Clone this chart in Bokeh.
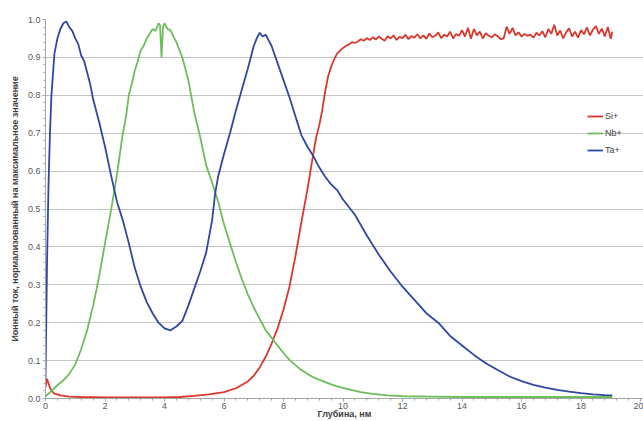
from bokeh.plotting import figure
from bokeh.models import Range1d, FixedTicker, PrintfTickFormatter, Legend, LegendItem
from bokeh.embed import file_html
from bokeh.resources import INLINE

# ---- data ----
si_depth = [0.0, 0.05, 0.1, 0.15, 0.2, 0.3, 0.5, 0.8, 1.2, 2.0, 3.0, 4.0, 4.5, 5.0, 5.5, 6.0,
            6.4, 6.8, 7.0, 7.2, 7.4, 7.6, 7.8, 8.0, 8.2, 8.4, 8.6, 8.8, 9.0, 9.1, 9.2, 9.3,
            9.4, 9.5, 9.6, 9.7, 9.8, 9.9, 10.0, 10.1, 10.2, 10.3, 10.4,
            10.5, 10.6, 10.7, 10.8, 10.9, 11.0, 11.1, 11.2, 11.3, 11.4, 11.5, 11.6, 11.7, 11.8,
            11.9, 12.0, 12.1, 12.2, 12.3, 12.4, 12.5, 12.6, 12.7, 12.8, 12.9, 13.0, 13.1, 13.2,
            13.3, 13.4, 13.5, 13.6, 13.7, 13.8, 13.9, 14.0, 14.1, 14.2, 14.3, 14.4, 14.5, 14.6,
            14.7, 14.8, 14.9, 15.0, 15.1, 15.2, 15.3, 15.4, 15.5, 15.6, 15.7, 15.8, 15.9, 16.0,
            16.1, 16.2, 16.3, 16.4, 16.5, 16.6, 16.7, 16.8, 16.9, 17.0, 17.1, 17.2, 17.3, 17.4,
            17.5, 17.6, 17.7, 17.8, 17.9, 18.0, 18.1, 18.2, 18.3, 18.4, 18.5, 18.6, 18.7, 18.8,
            18.9, 19.0, 19.05]
si_value = [0.03, 0.052, 0.04, 0.028, 0.02, 0.013, 0.008, 0.005, 0.004, 0.003, 0.003, 0.003, 0.004, 0.007, 0.011, 0.017,
            0.027, 0.045, 0.06, 0.082, 0.11, 0.145, 0.185, 0.235, 0.295, 0.375, 0.465, 0.55, 0.645, 0.69, 0.72, 0.76,
            0.81, 0.85, 0.875, 0.895, 0.91, 0.918, 0.925, 0.93, 0.935, 0.94, 0.938,
            0.942, 0.948, 0.944, 0.951, 0.946, 0.953, 0.947, 0.955, 0.949, 0.944, 0.956, 0.950, 0.958, 0.946,
            0.954, 0.951, 0.960, 0.948, 0.956, 0.952, 0.961, 0.950, 0.958, 0.949, 0.963, 0.953, 0.957, 0.966,
            0.951, 0.960, 0.955, 0.968, 0.950, 0.962, 0.957, 0.972, 0.955, 0.978, 0.949, 0.975, 0.958, 0.968,
            0.950, 0.964, 0.957, 0.953, 0.961, 0.956, 0.948, 0.950, 0.981, 0.962, 0.978, 0.958, 0.966, 0.955,
            0.962, 0.957, 0.960, 0.952, 0.965, 0.958, 0.969, 0.953, 0.975, 0.962, 0.986, 0.958, 0.971, 0.950,
            0.966, 0.977, 0.955, 0.968, 0.952, 0.972, 0.961, 0.979, 0.958, 0.973, 0.983, 0.962, 0.976, 0.955,
            0.980, 0.949, 0.968]

nb_depth = [0.0, 0.2, 0.4, 0.6, 0.8, 1.0, 1.2, 1.4, 1.6, 1.8, 2.0, 2.2, 2.4, 2.6, 2.7, 2.8, 2.9, 3.0,
            3.1, 3.2, 3.3, 3.4, 3.5, 3.6, 3.7, 3.8, 3.85, 3.9, 3.95, 4.0, 4.1, 4.2, 4.3, 4.4, 4.5, 4.6,
            4.7, 4.8, 5.0, 5.2, 5.4, 5.6, 5.8, 6.0, 6.2, 6.4, 6.6, 6.8, 7.0, 7.2, 7.4, 7.6, 7.8,
            8.0, 8.2, 8.4, 8.6, 8.8, 9.0, 9.4, 9.8, 10.2, 10.6, 11.0, 11.5, 12.0, 13.0, 14.0, 15.0,
            16.0, 17.0, 18.0, 19.05]
nb_value = [0.005, 0.02, 0.035, 0.048, 0.065, 0.09, 0.13, 0.18, 0.245, 0.32, 0.41, 0.495, 0.59, 0.70, 0.74, 0.80, 0.83, 0.865,
            0.89, 0.918, 0.93, 0.95, 0.962, 0.975, 0.97, 0.99, 0.985, 0.90, 0.98, 0.99, 0.975, 0.972, 0.955, 0.94, 0.92, 0.90,
            0.87, 0.84, 0.755, 0.69, 0.615, 0.57, 0.52, 0.46, 0.41, 0.36, 0.315, 0.275, 0.24, 0.21, 0.18, 0.16, 0.14,
            0.12, 0.102, 0.088, 0.075, 0.065, 0.056, 0.043, 0.032, 0.024, 0.017, 0.012, 0.008, 0.006, 0.005, 0.004, 0.004,
            0.004, 0.004, 0.004, 0.004]

ta_depth = [0.0, 0.05, 0.1, 0.15, 0.2, 0.3, 0.4, 0.5, 0.6, 0.7, 0.8, 0.9, 1.0, 1.1, 1.2, 1.3, 1.4, 1.5,
            1.6, 1.8, 2.0, 2.2, 2.4, 2.6, 2.8, 3.0, 3.2, 3.4, 3.6, 3.8, 4.0, 4.2, 4.4, 4.6, 4.8, 5.0,
            5.2, 5.4, 5.6, 5.7, 5.8, 5.9, 6.0, 6.2, 6.4, 6.6, 6.8, 7.0, 7.1, 7.2, 7.3, 7.4, 7.6, 7.8,
            8.0, 8.2, 8.4, 8.6, 8.8, 9.0, 9.2, 9.4, 9.6, 9.8, 10.0, 10.4, 10.8, 11.2, 11.6, 12.0,
            12.4, 12.8, 13.2, 13.6, 14.0, 14.4, 14.8, 15.2, 15.6, 16.0, 16.4, 16.8, 17.2, 17.6,
            18.0, 18.4, 18.8, 19.05]
ta_value = [0.05, 0.35, 0.56, 0.70, 0.80, 0.91, 0.95, 0.975, 0.99, 0.995, 0.98, 0.97, 0.95, 0.935, 0.905, 0.89, 0.86, 0.83,
            0.79, 0.73, 0.665, 0.59, 0.52, 0.47, 0.41, 0.345, 0.295, 0.255, 0.225, 0.20, 0.185, 0.18, 0.19, 0.205, 0.245, 0.29,
            0.335, 0.385, 0.47, 0.54, 0.585, 0.615, 0.645, 0.70, 0.76, 0.815, 0.87, 0.93, 0.95, 0.965, 0.955, 0.96, 0.93, 0.885,
            0.84, 0.795, 0.745, 0.695, 0.665, 0.64, 0.61, 0.585, 0.565, 0.55, 0.525, 0.485, 0.43, 0.38, 0.335, 0.295,
            0.26, 0.225, 0.20, 0.165, 0.14, 0.115, 0.093, 0.075, 0.058, 0.046, 0.036, 0.029, 0.023, 0.018,
            0.014, 0.011, 0.009, 0.008]

x_ticks = [0, 2, 4, 6, 8, 10, 12, 14, 16, 18, 20]
y_ticks = [0.0, 0.1, 0.2, 0.3, 0.4, 0.5, 0.6, 0.7, 0.8, 0.9, 1.0]
series_names = ["Si+", "Nb+", "Ta+"]
series_colors = ["#d9382d", "#6dbd5b", "#2e47a5"]
x_title = "Глубина, нм"
y_title = "Ионный ток, нормализованный на максимальное значение"

FONT = "Liberation Sans"

p = figure(width=643, height=421, output_backend="svg", toolbar_location=None,
           x_range=Range1d(0, 20.1), y_range=Range1d(0, 1.0),
           min_border_left=45, min_border_right=0, min_border_top=19, min_border_bottom=0)
p.outline_line_color = None
p.background_fill_color = "white"

lines = []
for d, v, c in zip([si_depth, nb_depth, ta_depth], [si_value, nb_value, ta_value], series_colors):
    lines.append(p.line(d, v, line_color=c, line_width=1.8))

p.xgrid.grid_line_color = None
p.ygrid.grid_line_color = "#c4c4c4"
p.ygrid.grid_line_width = 1

x_minor = [round(i * 0.4, 2) for i in range(0, 51)]
y_minor = [round(i * 0.02, 2) for i in range(0, 51)]
p.xaxis.ticker = FixedTicker(ticks=x_ticks, minor_ticks=x_minor)
p.yaxis.ticker = FixedTicker(ticks=y_ticks, minor_ticks=y_minor)
p.yaxis.formatter = PrintfTickFormatter(format="%.1f")

for ax in (p.xaxis[0], p.yaxis[0]):
    ax.axis_line_color = "#a6a6a6"
    ax.major_tick_line_color = "#a6a6a6"
    ax.minor_tick_line_color = "#a6a6a6"
    ax.major_tick_out = 3
    ax.major_tick_in = 0
    ax.minor_tick_out = 2
    ax.minor_tick_in = 0
    ax.major_label_text_font = FONT
    ax.major_label_text_font_size = "9px"
    ax.major_label_text_color = "#595959"
    ax.major_label_standoff = 2
    ax.axis_label_text_font = FONT
    ax.axis_label_text_font_size = "9px"
    ax.axis_label_text_font_style = "bold"
    ax.axis_label_text_color = "#404040"
    ax.axis_label_standoff = 0

p.xaxis.axis_label = x_title
p.xaxis.major_label_standoff = 1
p.xaxis.axis_label_standoff = -3
p.yaxis.axis_label = y_title
p.yaxis.axis_label_standoff = 5

legend = Legend(items=[LegendItem(label=n, renderers=[r]) for n, r in zip(series_names, lines)],
                location=(542, 242))
legend.border_line_color = None
legend.background_fill_alpha = 0
legend.label_text_font = FONT
legend.label_text_font_size = "9px"
legend.label_text_color = "#404040"
legend.glyph_width = 16
legend.glyph_height = 12
legend.label_standoff = 2
legend.spacing = 5
legend.padding = 0
legend.margin = 0
legend.label_height = 12
p.add_layout(legend, "center")

open("out.html", "w").write(file_html(p, INLINE))
